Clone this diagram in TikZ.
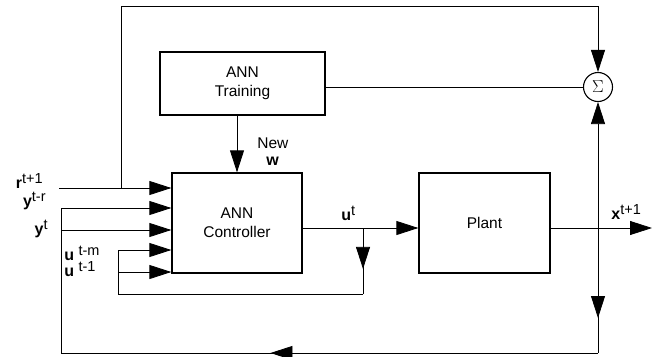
\documentclass[tikz,border=0pt]{standalone}
\usepackage{fontspec}
\setmainfont{Liberation Sans}
\usetikzlibrary{arrows.meta,decorations.markings}
\newcommand\upx[2][5pt]{\raisebox{#1}{\fontsize{14.5}{14.5}\selectfont #2}}
\begin{document}
\begin{tikzpicture}[x=1pt,y=-1pt, line width=0.8pt,
  box/.style={draw, line width=1.3pt, inner sep=0pt, align=center, font=\fontsize{15.5}{19}\selectfont},
  tip/.style={-{Triangle[length=22pt,width=14pt]}},
  midtip/.style={postaction={decorate},decoration={markings,mark=at position #1 with {\arrow{Triangle[length=22pt,width=14pt]}}}},
  lbl/.style={inner sep=0pt, font=\fontsize{16}{17}\selectfont},
  txt/.style={inner sep=0pt, font=\fontsize{15.5}{17}\selectfont}]
\useasboundingbox (0,0) rectangle (652,356);

% blocks
\node[box, minimum width=165pt, minimum height=63pt] (train) at (242.5,83.5) {ANN\\Training};
\node[box, minimum width=130pt, minimum height=100pt] (ctrl) at (237,223) {ANN\\Controller};
\node[box, minimum width=131pt, minimum height=100pt] (plant) at (484.5,223) {Plant};
\node[draw, circle, line width=1.1pt, minimum size=29pt, inner sep=0pt, font=\fontsize{18}{18}\selectfont] (sig) at (598,87) {$\Sigma$};

% coordinates
\coordinate (tl) at (121,6);
\coordinate (tr) at (598,6);
\coordinate (jr1) at (121,188);
\coordinate (rs) at (59,188);
\coordinate (yrs) at (61,208);
\coordinate (yts) at (61,230);
\coordinate (bl) at (61,353);
\coordinate (br) at (598,353);
\coordinate (jo) at (598,228);
\coordinate (xe) at (652,228);
\coordinate (ub) at (363,228);
\coordinate (ubot) at (363,294);
\coordinate (ul) at (118,294);
\coordinate (utm) at (118,250);
\coordinate (ut1) at (118,272);

% top loop to sigma
\draw (jr1) -- (tl) -- (tr);
\draw[tip] (tr) -- (sig.north);
\draw (sig.west) -- (sig.west -| train.east);
\draw[tip] (ctrl.north |- train.south) -- (ctrl.north);

% controller inputs
\draw[tip] (rs) -- (rs -| ctrl.west);
\draw[tip] (yrs) -- (yrs -| ctrl.west);
\draw[tip] (yts) -- (yts -| ctrl.west);
\draw[tip] (utm) -- (utm -| ctrl.west);
\draw[tip] (ut1) -- (ut1 -| ctrl.west);

% controller to plant and u feedback
\draw[tip] (ctrl.east |- ub) -- (plant.west |- ub);
\draw[midtip=0.62] (ub) -- (ubot);
\draw (ubot) -- (ul) -- (utm);

% plant output and feedback
\draw[tip] (plant.east |- jo) -- (xe);
\draw[tip] (jo) -- (sig.south);
\draw[midtip=0.72] (jo) -- (br);
\draw[midtip=0.61] (br) -- (bl);
\draw (bl) -- (yrs);

% labels
\node[lbl, anchor=base east] (lr) at (43,188) {\textbf{r}\upx{t+1}};
\node[lbl, anchor=base east] (lyr) at (46,206) {\textbf{y}\upx{t-r}};
\node[lbl, anchor=base east] (lyt) at (48,234) {\textbf{y}\upx{t}};
\node[lbl, anchor=base west] (lum) at (64,260) {\textbf{u} \upx{t-m}};
\node[lbl, anchor=base west] (lu1) at (64,276) {\textbf{u} \upx{t-1}};
\node[lbl, anchor=base west] (lut) at (341,220) {\textbf{u}\upx{t}};
\node[lbl, anchor=base west] (lx) at (611,219) {\textbf{x}\upx{t+1}};
\node[txt, anchor=base west] (lnew) at (257,148) {New};
\node[lbl, anchor=base west] (lw) at (266,165) {\textbf{w}};
\end{tikzpicture}
\end{document}
